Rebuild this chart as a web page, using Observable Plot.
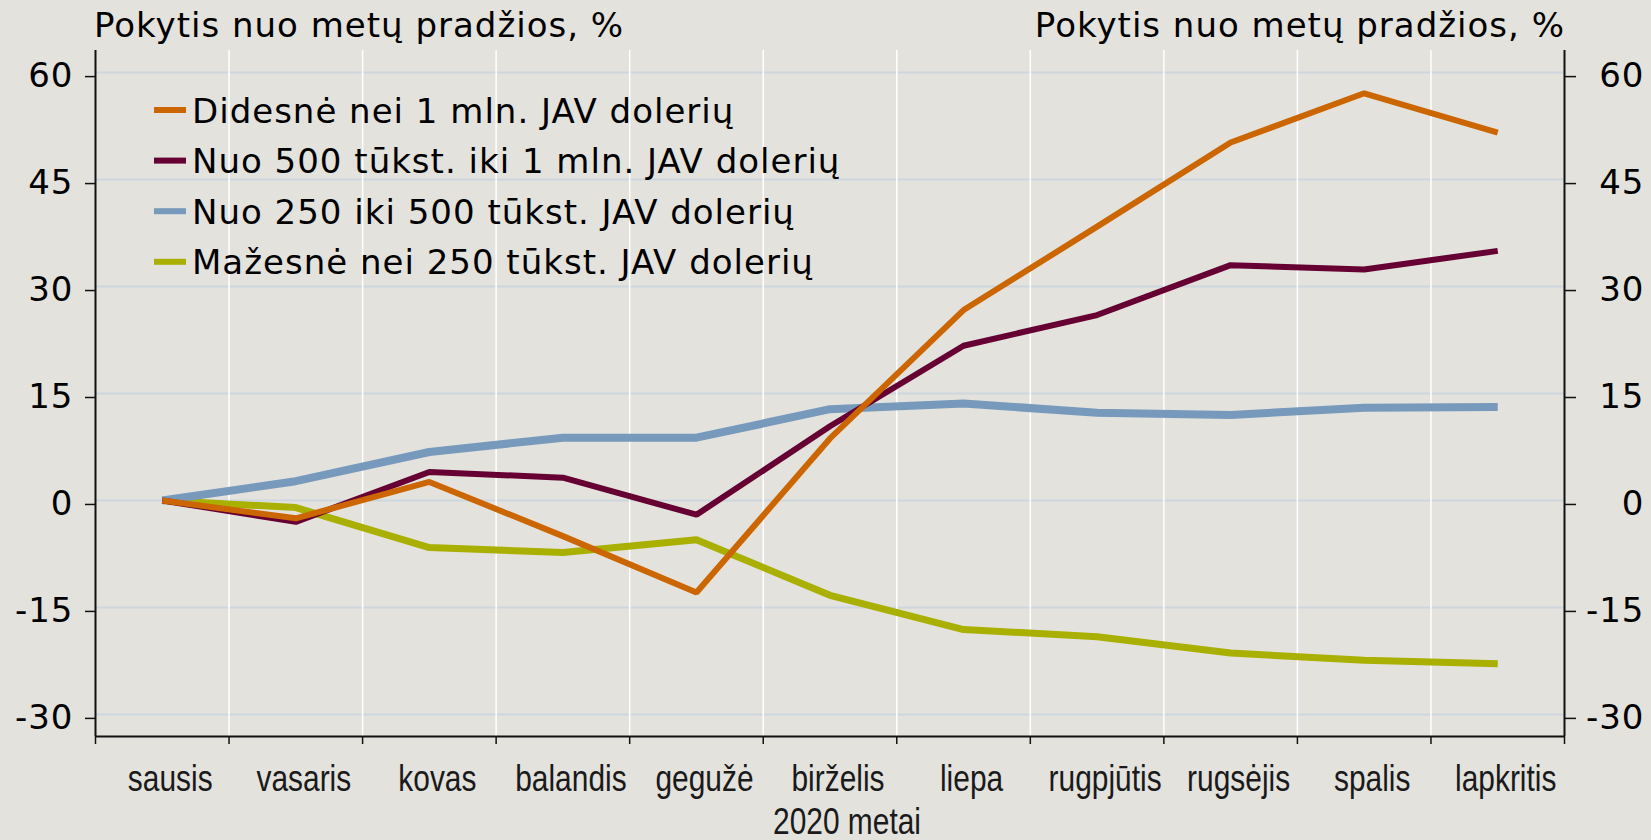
<!DOCTYPE html>
<html>
<head>
<meta charset="utf-8">
<script src="https://cdn.jsdelivr.net/npm/d3@7"></script>
<script src="https://cdn.jsdelivr.net/npm/@observablehq/plot@0.6"></script>
<style>
  html, body { margin: 0; padding: 0; background: #e3e2dd; }
  #chart { position: relative; width: 1651px; height: 840px; }
</style>
</head>
<body>
<div id="chart"></div>
<script>
const months = ["sausis", "vasaris", "kovas", "balandis", "gegužė", "birželis", "liepa", "rugpjūtis", "rugsėjis", "spalis", "lapkritis"];
const xTitle = "2020 metai";
const yTitle = "Pokytis nuo metų pradžios, %";
const yTicks = [-30, -15, 0, 15, 30, 45, 60];

const seriesNames = [
  "Didesnė nei 1 mln. JAV dolerių",
  "Nuo 500 tūkst. iki 1 mln. JAV dolerių",
  "Nuo 250 iki 500 tūkst. JAV dolerių",
  "Mažesnė nei 250 tūkst. JAV dolerių"
];
const didesne = [0, -2.5, 2.6, -5.0, -12.9, 8.7, 26.7, 38.4, 50.2, 57.1, 51.6];
const nuo500 = [0, -3.0, 4.0, 3.2, -2.0, 10.4, 21.7, 26.0, 33.0, 32.4, 35.0];
const nuo250 = [0, 2.7, 6.8, 8.8, 8.8, 12.8, 13.6, 12.3, 12.0, 13.0, 13.1];
const mazesne = [0, -1.0, -6.6, -7.3, -5.5, -13.3, -18.1, -19.1, -21.4, -22.4, -22.9];
const seriesValues = [didesne, nuo500, nuo250, mazesne];
const seriesColors = ["#cc6600", "#660033", "#7799bb", "#a9b000"];
const seriesWidths = [6, 6, 8, 7];

const verdana = "'DejaVu Sans', Verdana, sans-serif";
const narrow = "'Liberation Sans', Arial, sans-serif";
const narrowScale = 0.82;
const mainSize = "34px";
const mainSpacing = "1px";
const yDomain = [-33.1, 63.1];
const xDomain = [-0.5, months.length - 0.5];
const boundaries = months.map((_, i) => i - 0.5).concat([months.length - 0.5]);

// draw order so that orange is on top
const drawOrder = [3, 2, 1, 0];

const svg = Plot.plot({
  width: 1651,
  height: 840,
  marginLeft: 95,
  marginRight: 87,
  marginTop: 50,
  marginBottom: 104,
  style: { background: "#e3e2dd", fontFamily: verdana, fontSize: mainSize, color: "#000", overflow: "visible" },
  x: { type: "linear", domain: xDomain },
  y: { domain: yDomain },
  marks: [
    Plot.ruleY(yTicks, { stroke: "#cdd6de", strokeWidth: 2 }),
    Plot.ruleX(boundaries.slice(1, -1), { stroke: "#ffffff", strokeWidth: 1.5 }),
    ...drawOrder.map(k => Plot.line(seriesValues[k], {
      x: (d, i) => i, y: d => d,
      stroke: seriesColors[k], strokeWidth: seriesWidths[k],
      strokeLinejoin: "miter", strokeLinecap: "butt"
    })),
    Plot.ruleY([yDomain[0]], { stroke: "#111", strokeWidth: 2 }),
    Plot.ruleX([xDomain[0], xDomain[1]], { stroke: "#111", strokeWidth: 2 }),
    Plot.axisY({ anchor: "left", ticks: yTicks, tickSize: 10, tickPadding: 12, tickFormat: d => String(d), label: null, dy: 4, stroke: "#111", strokeWidth: 1.5 }),
    Plot.axisY({ anchor: "right", ticks: yTicks, tickSize: 11, tickPadding: 69, textAnchor: "end", tickFormat: d => String(d), label: null, dy: 4, stroke: "#111", strokeWidth: 1.5 }),
    Plot.axisX({ ticks: boundaries, tickSize: 8, tickFormat: () => "", label: null, stroke: "#111", strokeWidth: 1.5 }),
    Plot.axisX({ ticks: months.map((_, i) => i), tickSize: 0, tickPadding: 29, dx: 8, tickFormat: i => months[i], label: null, fontFamily: narrow, fontSize: 36.5 }),
    Plot.text([xTitle], { frameAnchor: "bottom", dx: 17, dy: 97, fontFamily: narrow, fontSize: 36.5, fill: "#1a1a1a" })
  ]
});

document.getElementById("chart").appendChild(svg);

const s = d3.select(svg);
s.selectAll('g[aria-label="y-axis tick label"]').style("letter-spacing", mainSpacing).style("font-family", verdana).style("font-size", mainSize);
s.selectAll('g[aria-label="x-axis tick label"]').style("font-family", narrow).style("font-size", "36.5px").attr("fill", "#1a1a1a");
s.selectAll("text").each(function () {
  const isMonth = this.parentNode && this.parentNode.getAttribute("aria-label") === "x-axis tick label";
  if (isMonth || this.textContent === xTitle) {
    const t = this.getAttribute("transform") || "";
    this.setAttribute("transform", t + ` scale(${narrowScale},1)`);
  }
});

// titles above each y axis
s.append("text").attr("x", 94).attr("y", 37).attr("text-anchor", "start")
  .style("font-family", verdana).style("font-size", mainSize).style("letter-spacing", mainSpacing)
  .text(yTitle);
s.append("text").attr("x", 1565).attr("y", 37).attr("text-anchor", "end")
  .style("font-family", verdana).style("font-size", mainSize).style("letter-spacing", mainSpacing)
  .text(yTitle);

// legend
const lg = s.append("g").attr("text-anchor", "start");
seriesNames.forEach((name, k) => {
  const cy = 110 + k * 50.6;
  lg.append("line").attr("x1", 154).attr("x2", 186).attr("y1", cy).attr("y2", cy)
    .attr("stroke", seriesColors[k]).attr("stroke-width", 6);
  lg.append("text").attr("x", 192).attr("y", cy + 12.5).attr("text-anchor", "start")
    .style("font-family", verdana).style("font-size", mainSize).style("letter-spacing", mainSpacing)
    .text(name);
});
</script>
</body>
</html>
